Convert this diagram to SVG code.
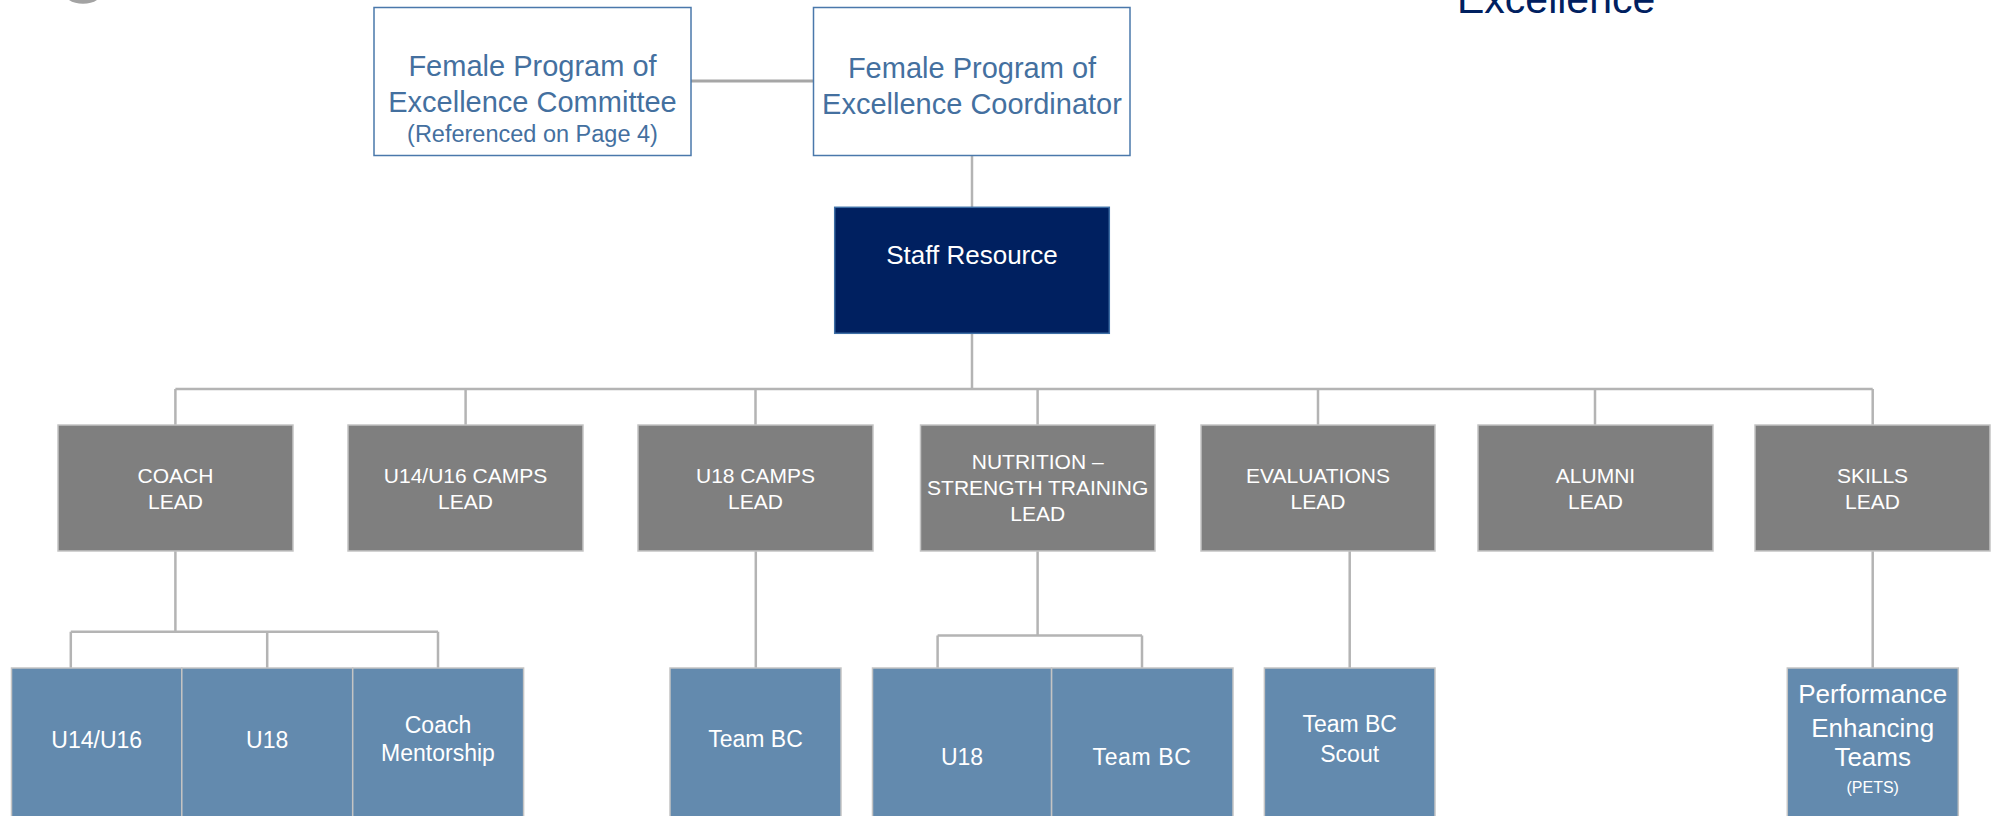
<svg xmlns="http://www.w3.org/2000/svg" width="1999" height="816" viewBox="0 0 1999 816">
<style>
text{font-family:"Liberation Sans",Arial,sans-serif;text-anchor:middle}
.top rect{fill:#ffffff;stroke:#4a78ab;stroke-width:1.5}
.top text{fill:#44709f;font-size:29px}
.l2 rect{fill:#7f7f7f;stroke:#c4c4c4;stroke-width:1.5}
.l2 text{fill:#ffffff;font-size:21px}
.l3 rect{fill:#638aae;stroke:#c4c4c4;stroke-width:1.5}
.l3 text{fill:#ffffff;font-size:23px}
.conn{fill:none;stroke:#b4b4b4;stroke-width:2.5}
</style>
<rect width="1999" height="816" fill="#ffffff"/>
<path d="M69,0 C76,5 90,5 97,0 Z" fill="#a3a3a3"/>
<text x="1457" y="13" style="text-anchor:start;font-size:41px;fill:#002060">Excellence</text>

<g id="connectors" class="conn">
<path d="M691,81 H813.5" stroke="#a6a6a6" stroke-width="3"/>
<path d="M972,156 V207"/>
<path d="M972,333 V389"/>
<path d="M175.4,389 H1872.7"/>
<path d="M175.4,389 V425 M465.6,389 V425 M755.5,389 V425 M1037.6,389 V425 M1318,389 V425 M1595,389 V425 M1872.7,389 V425"/>
<path d="M175.4,551 V631.7 M70.8,631.7 H438 M70.8,631.7 V668 M267.2,631.7 V668 M438,631.7 V668"/>
<path d="M755.8,551 V668"/>
<path d="M1037.6,551 V635.5 M937.6,635.5 H1142 M937.6,635.5 V668 M1142,635.5 V668"/>
<path d="M1349.7,551 V668"/>
<path d="M1872.7,551 V668"/>
</g>

<g id="committee" class="top">
<rect x="374" y="7.5" width="317" height="148"/>
<text x="532.5" y="76">Female Program of</text>
<text x="532.5" y="112">Excellence Committee</text>
<text x="532.5" y="142" style="font-size:23.5px">(Referenced on Page 4)</text>
</g>
<g id="coordinator" class="top">
<rect x="813.5" y="7.5" width="316.5" height="148"/>
<text x="972" y="78">Female Program of</text>
<text x="972" y="114">Excellence Coordinator</text>
</g>
<g id="staff">
<rect x="834.7" y="207.3" width="274.6" height="126" fill="#002060" stroke="#3d6ea5" stroke-width="1.5"/>
<text x="972" y="264" style="fill:#ffffff;font-size:26px">Staff Resource</text>
</g>

<g id="coach-lead" class="l2"><rect x="58" y="425" width="235" height="126"/><text x="175.5" y="483">COACH</text><text x="175.5" y="509">LEAD</text></g>
<g id="u14u16-camps-lead" class="l2"><rect x="348" y="425" width="235" height="126"/><text x="465.5" y="483">U14/U16 CAMPS</text><text x="465.5" y="509">LEAD</text></g>
<g id="u18-camps-lead" class="l2"><rect x="638" y="425" width="235" height="126"/><text x="755.5" y="483">U18 CAMPS</text><text x="755.5" y="509">LEAD</text></g>
<g id="nutrition-lead" class="l2"><rect x="920.5" y="425" width="234.5" height="126"/><text x="1037.7" y="468.5">NUTRITION –</text><text x="1037.7" y="494.5">STRENGTH TRAINING</text><text x="1037.7" y="520.5">LEAD</text></g>
<g id="evaluations-lead" class="l2"><rect x="1201" y="425" width="234" height="126"/><text x="1318" y="483">EVALUATIONS</text><text x="1318" y="509">LEAD</text></g>
<g id="alumni-lead" class="l2"><rect x="1478" y="425" width="235" height="126"/><text x="1595.5" y="483">ALUMNI</text><text x="1595.5" y="509">LEAD</text></g>
<g id="skills-lead" class="l2"><rect x="1755" y="425" width="235" height="126"/><text x="1872.5" y="483">SKILLS</text><text x="1872.5" y="509">LEAD</text></g>

<g id="coach-u14u16" class="l3"><rect x="11.5" y="668" width="170.3" height="170"/><text x="96.7" y="748">U14/U16</text></g>
<g id="coach-u18" class="l3"><rect x="181.8" y="668" width="170.9" height="170"/><text x="267.2" y="748">U18</text></g>
<g id="coach-mentorship" class="l3"><rect x="352.7" y="668" width="170.9" height="170"/><text x="438" y="733">Coach</text><text x="438" y="761">Mentorship</text></g>
<g id="u18camps-teambc" class="l3"><rect x="670" y="668" width="171" height="170"/><text x="755.5" y="747">Team BC</text></g>
<g id="nutrition-u18" class="l3"><rect x="872.5" y="668" width="179.1" height="170"/><text x="962" y="765">U18</text></g>
<g id="nutrition-teambc" class="l3"><rect x="1051.6" y="668" width="181.4" height="170"/><text x="1142" y="765" style="letter-spacing:0.6px">Team BC</text></g>
<g id="teambc-scout" class="l3"><rect x="1264.4" y="668" width="170.6" height="170"/><text x="1349.7" y="732">Team BC</text><text x="1349.7" y="762">Scout</text></g>
<g id="pets" class="l3"><rect x="1787.3" y="668" width="171" height="170"/><text x="1872.7" y="703" style="font-size:26px">Performance</text><text x="1872.7" y="737" style="font-size:26px">Enhancing</text><text x="1872.7" y="766" style="font-size:26px">Teams</text><text x="1872.7" y="793" style="font-size:16px">(PETS)</text></g>
</svg>
